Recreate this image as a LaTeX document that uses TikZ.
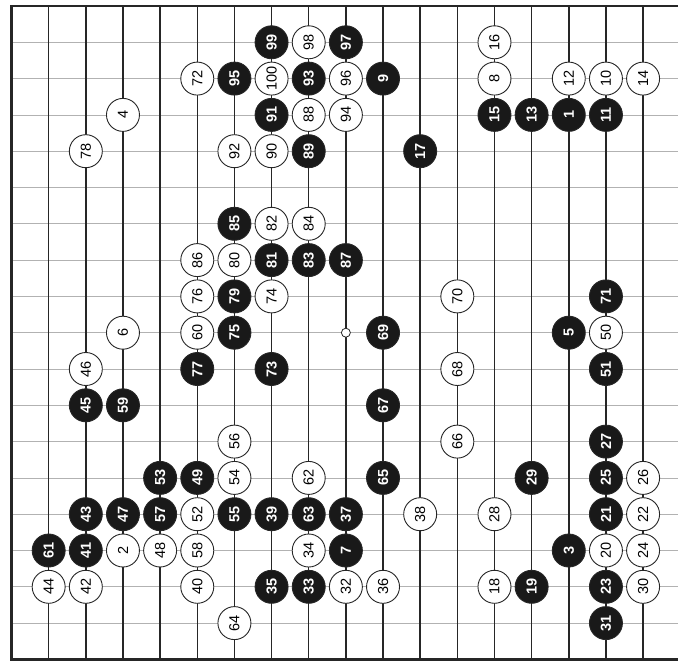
\documentclass[tikz,border=0pt]{standalone}
\usepackage{fontspec}
\setmainfont{Liberation Sans}

\begin{document}
\begin{tikzpicture}[
  x=37.15pt,y=-36.3pt,
  vline/.style={line width=1.5pt,draw=black!85},
  hline/.style={line width=0.7pt,draw=black!30},
  edgeline/.style={line width=2.6pt,draw=black!85},
  whitestone/.style={circle,draw=black!85,line width=0.9pt,fill=white,minimum size=33pt,
    inner sep=0pt,rotate=90,font=\fontsize{14.5}{14.5}\selectfont},
  blackstone/.style={whitestone,fill=black!90,text=white,font=\fontsize{14.5}{14.5}\selectfont\bfseries},
  hoshi/.style={circle,draw=black!85,line width=0.8pt,fill=white,minimum size=9pt,inner sep=0pt}
]
\useasboundingbox (-0.31,-0.165) rectangle (17.94,18.127);
% board
\foreach \r in {1,...,17} \draw[hline] (0,\r) -- (17.94,\r);
\foreach \c in {1,...,17} \draw[vline] (\c,0) -- (\c,18);
\draw[edgeline] (17.94,0) -- (0,0) -- (0,18) -- (17.94,18);
\node[hoshi] (tengen) at (9,9) {};
% black stones
\foreach \n/\c/\r in {1/15/3,3/15/15,5/15/9,7/9/15,9/10/2,11/16/3,13/14/3,15/13/3,17/11/4,
  19/14/16,21/16/14,23/16/16,25/16/13,27/16/12,29/14/13,31/16/17,33/8/16,35/7/16,37/9/14,
  39/7/14,41/2/15,43/2/14,45/2/11,47/3/14,49/5/13,51/16/10,53/4/13,55/6/14,57/4/14,59/3/11,
  61/1/15,63/8/14,65/10/13,67/10/11,69/10/9,71/16/8,73/7/10,75/6/9,77/5/10,79/6/8,81/7/7,
  83/8/7,85/6/6,87/9/7,89/8/4,91/7/3,93/8/2,95/6/2,97/9/1,99/7/1}
  \node[blackstone] (m\n) at (\c,\r) {\n};
% white stones
\foreach \n/\c/\r in {2/3/15,4/3/3,6/3/9,8/13/2,10/16/2,12/15/2,14/17/2,16/13/1,18/13/16,
  20/16/15,22/17/14,24/17/15,26/17/13,28/13/14,30/17/16,32/9/16,34/8/15,36/10/16,38/11/14,
  40/5/16,42/2/16,44/1/16,46/2/10,48/4/15,50/16/9,52/5/14,54/6/13,56/6/12,58/5/15,60/5/9,
  62/8/13,64/6/17,66/12/12,68/12/10,70/12/8,72/5/2,74/7/8,76/5/8,78/2/4,80/6/7,82/7/6,
  84/8/6,86/5/7,88/8/3,90/7/4,92/6/4,94/9/3,96/9/2,98/8/1,100/7/2}
  \node[whitestone] (m\n) at (\c,\r) {\n};
\end{tikzpicture}
\end{document}
